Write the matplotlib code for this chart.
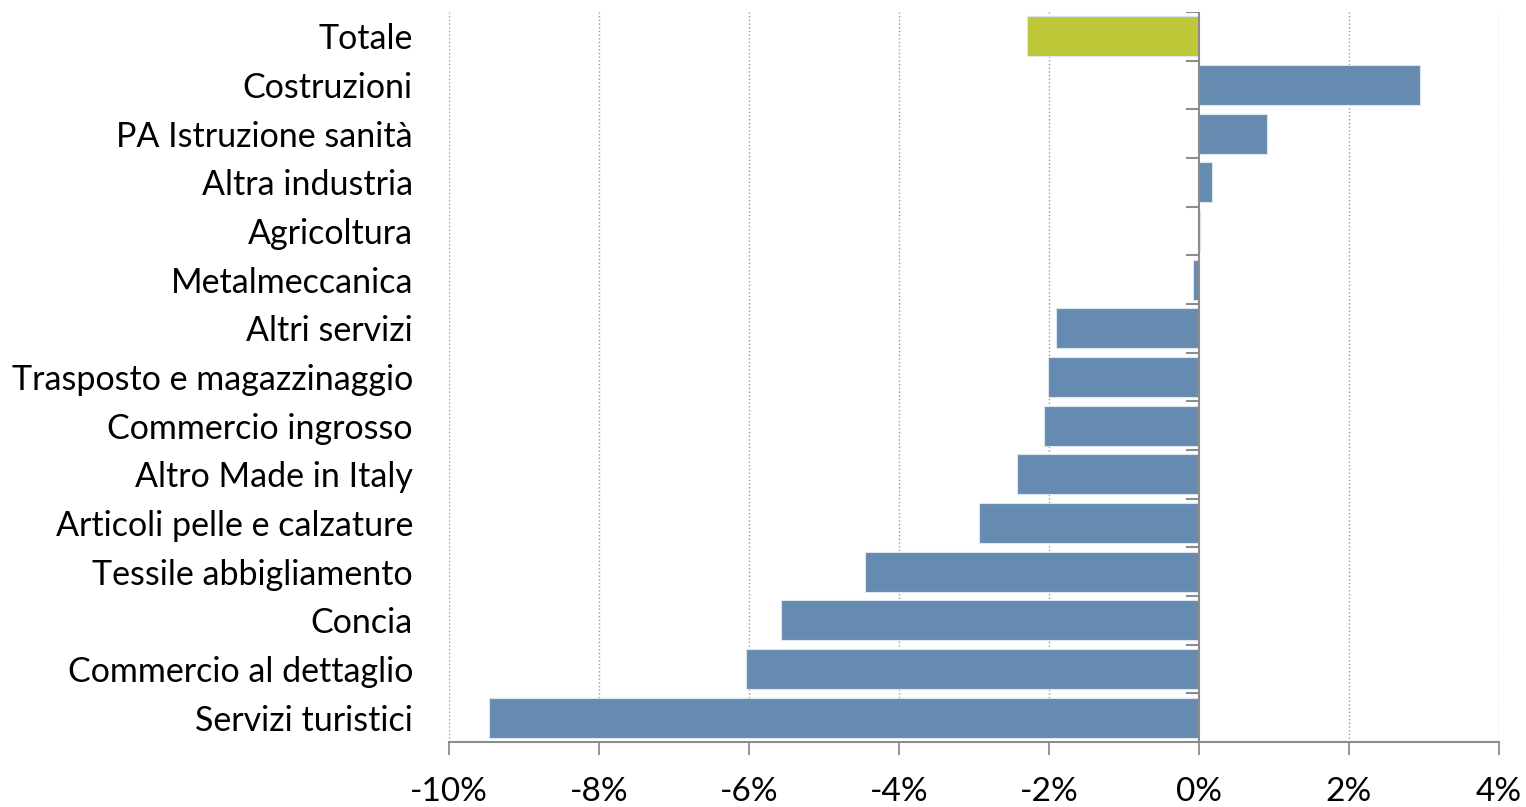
import numpy as np
import matplotlib.pyplot as plt
from matplotlib.ticker import FuncFormatter

settori = ['Totale', 'Costruzioni', 'PA Istruzione sanità', 'Altra industria',
           'Agricoltura', 'Metalmeccanica', 'Altri servizi',
           'Trasposto e magazzinaggio', 'Commercio ingrosso',
           'Altro Made in Italy', 'Articoli pelle e calzature',
           'Tessile abbigliamento', 'Concia', 'Commercio al dettaglio',
           'Servizi turistici']
variazioni = [-2.29, 2.95, 0.91, 0.18, 0.02, -0.08, -1.90, -2.01, -2.06,
              -2.42, -2.93, -4.45, -5.57, -6.04, -9.47]
xticks = [-10, -8, -6, -4, -2, 0, 2, 4]

plt.rcParams['font.family'] = ['Lato', 'DejaVu Sans']

fig = plt.figure(figsize=(15.26, 8.07), dpi=100)
ax = fig.add_axes([449 / 1526, 1 - 742 / 807, 1050 / 1526, 730 / 807])

y = np.arange(len(settori))
colori = ['#BDC738'] + ['#668BB0'] * (len(settori) - 1)
ax.barh(y, variazioni, height=0.82, color=colori, edgecolor='#DCE6F0',
        linewidth=0.8, zorder=3)

ax.set_ylim(len(settori) - 0.5, -0.5)
ax.set_xlim(-10, 4)

ax.set_yticks(y)
ax.set_yticklabels(settori, fontsize=24.5)
ax.tick_params(axis='y', length=0, pad=26)

ax.set_xticks(xticks)
ax.xaxis.set_major_formatter(FuncFormatter(lambda v, p: '%d%%' % v))
ax.tick_params(axis='x', labelsize=24, length=9, width=1.3, color='#8C8C8C',
               pad=16, direction='out')

for v in xticks:
    if v != 0:
        ax.axvline(v, color='#9A9A9A', linestyle=':', linewidth=1.0, zorder=1)

# asse verticale sullo zero con tacche tra le categorie
ax.axvline(0, color='#8C8C8C', linewidth=1.5, zorder=4)
confini = np.arange(len(settori) + 1) - 0.5
ax.hlines(confini, -0.17, 0, color='#8C8C8C', linewidth=1.5, zorder=4)

for s in ['top', 'right', 'left']:
    ax.spines[s].set_visible(False)
ax.spines['bottom'].set_color('#8C8C8C')
ax.spines['bottom'].set_linewidth(1.5)

fig.savefig('out.png', dpi=100)
